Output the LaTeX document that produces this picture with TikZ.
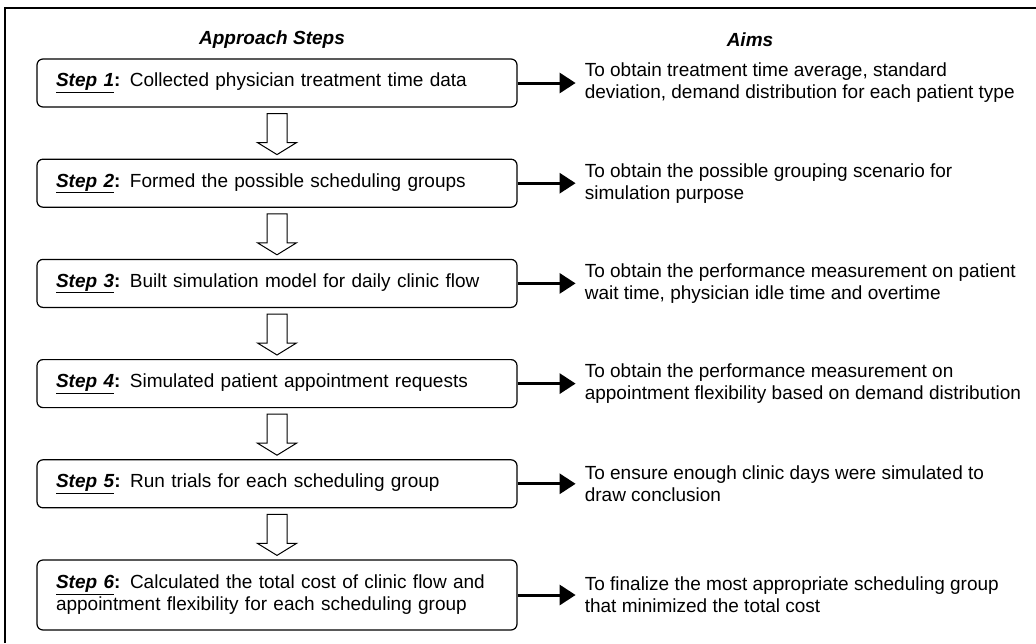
\documentclass[tikz,border=0pt]{standalone}
\usepackage{fontspec}
\setmainfont{Liberation Sans}
\usepackage{tikz}
\usetikzlibrary{arrows.meta,positioning}
\newcommand{\bodyfont}{\fontsize{19}{22}\selectfont}
\newcommand{\steplbl}[1]{\textbf{\underline{\textit{Step #1}}:}}
\newcommand{\hollowdown}[2]{%
  \draw[blockarr] ([xshift=-10pt,yshift=-6pt]#1.south) -- ([xshift=10pt,yshift=-6pt]#1.south)
    -- ([xshift=10pt,yshift=16pt]#2.north) -- ([xshift=19.5pt,yshift=16pt]#2.north)
    -- ([yshift=4pt]#2.north) -- ([xshift=-19.5pt,yshift=16pt]#2.north)
    -- ([xshift=-10pt,yshift=16pt]#2.north) -- cycle;}

\begin{document}
\begin{tikzpicture}[
  x=1pt, y=-1pt, node distance=51pt and 67pt,
  stepbox/.style={draw, line width=1.2pt, rounded corners=6pt, minimum width=480pt,
                  minimum height=48pt, text width=442pt, inner xsep=19pt,
                  align=left, font=\bodyfont},
  aimtxt/.style={align=left, inner xsep=0pt, font=\bodyfont},
  title/.style={font=\fontsize{19}{22}\selectfont\bfseries\itshape},
  aimarr/.style={line width=3pt, shorten >=9pt,
                 -{Triangle[length=16pt,width=20pt]}},
  blockarr/.style={draw, line width=1pt, fill=white}]
\useasboundingbox (0,0) rectangle (1036,643);
\draw[line width=1.2pt] (5,643) -- (5,8) -- (1036,8);

\node[title] (hsteps) at (272,40) {Approach Steps};
\node[title] (haims)  at (750,40) {Aims};

\node[stepbox] (s1) at (277,83) {\steplbl{1} Collected physician treatment time data};
\node[stepbox, below=of s1] (s2) {\steplbl{2} Formed the possible scheduling groups};
\node[stepbox, below=of s2] (s3) {\steplbl{3} Built simulation model for daily clinic flow};
\node[stepbox, below=of s3] (s4) {\steplbl{4} Simulated patient appointment requests};
\node[stepbox, below=of s4] (s5) {\steplbl{5} Run trials for each scheduling group};
\node[stepbox, minimum height=70pt, below=of s5] (s6)
  {\steplbl{6} Calculated the total cost of clinic flow and\\appointment flexibility for each scheduling group};

\node[aimtxt, right=of s1] (a1) {To obtain treatment time average, standard\\deviation, demand distribution for each patient type};
\node[aimtxt, right=of s2] (a2) {To obtain the possible grouping scenario for\\simulation purpose};
\node[aimtxt, right=of s3] (a3) {To obtain the performance measurement on patient\\wait time, physician idle time and overtime};
\node[aimtxt, right=of s4] (a4) {To obtain the performance measurement on\\appointment flexibility based on demand distribution};
\node[aimtxt, right=of s5] (a5) {To ensure enough clinic days were simulated to\\draw conclusion};
\node[aimtxt, right=of s6] (a6) {To finalize the most appropriate scheduling group\\that minimized the total cost};

\draw[aimarr] (s1) -- (a1);
\draw[aimarr] (s2) -- (a2);
\draw[aimarr] (s3) -- (a3);
\draw[aimarr] (s4) -- (a4);
\draw[aimarr] (s5) -- (a5);
\draw[aimarr] (s6) -- (a6);

\hollowdown{s1}{s2}
\hollowdown{s2}{s3}
\hollowdown{s3}{s4}
\hollowdown{s4}{s5}
\hollowdown{s5}{s6}
\end{tikzpicture}
\end{document}
